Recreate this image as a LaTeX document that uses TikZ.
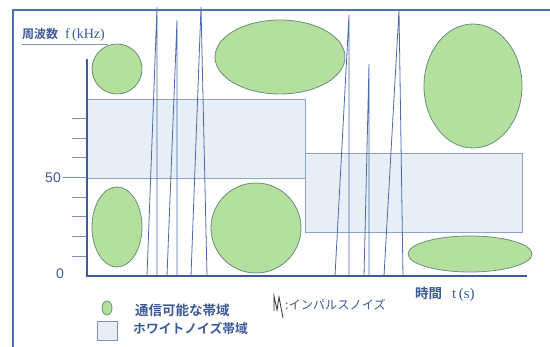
\documentclass[tikz,border=0pt]{standalone}
\usepackage{fontspec}
\setmainfont{Liberation Serif}
\newfontfamily\jp{Noto Sans CJK JP}
\newfontfamily\jpb{Noto Sans CJK JP Bold}
\newfontfamily\sns{Liberation Sans}
\definecolor{frameblue}{HTML}{4F72AE}
\definecolor{axisblue}{HTML}{3E5C9C}
\definecolor{spikeblue}{HTML}{4A6AAE}
\definecolor{bandgreen}{HTML}{B4E09E}
\definecolor{bandedge}{HTML}{6B8C80}
\definecolor{noisefill}{HTML}{E8EEF5}
\definecolor{noiseedge}{HTML}{8DA4C6}
\definecolor{txtblue}{HTML}{3C5A98}
\definecolor{tickgray}{HTML}{7F93B8}
\tikzset{
  band/.style={fill=bandgreen,draw=bandedge,line width=0.8pt},
  noise/.style={fill=noisefill,draw=noiseedge,line width=0.9pt},
  spike/.style={draw=spikeblue,line width=0.8pt},
  axisline/.style={draw=axisblue,line width=1.6pt},
  tickline/.style={draw=tickgray,line width=1pt},
  lbl/.style={text=txtblue,inner sep=0pt}
}
\begin{document}
\begin{tikzpicture}[x=1pt,y=-1pt]
\useasboundingbox (0,0) rectangle (550,347);
% outer frame
\draw[frameblue,line width=1.6pt] (13,347) -- (13,10) -- (550,10);
% noise rectangles
\draw[noise] (87,99) rectangle (305,178);
\draw[noise] (305,153) rectangle (522,232);
% green bands
\draw[band] (117,69) ellipse [x radius=25,y radius=25];
\draw[band] (117,227) ellipse [x radius=25,y radius=40];
\draw[band] (280,57) ellipse [x radius=65,y radius=37];
\draw[band] (256,228) ellipse [x radius=45,y radius=45];
\draw[band] (473,86) ellipse [x radius=49,y radius=62];
\draw[band] (470,254) ellipse [x radius=62,y radius=18];
% impulse spikes
\draw[spike] (147,276) -- (157,7) -- (157,276);
\draw[spike] (167,276) -- (177,20) -- (177,276);
\draw[spike] (191,276) -- (201,7) -- (207,276);
\draw[spike] (335,276) -- (349,15) -- (349,276);
\draw[spike] (364,276) -- (369,64) -- (369,276);
\draw[spike] (384,276) -- (399,10) -- (403,276);
% ticks
\foreach \yy in {119,139,158,198,217,237,257} \draw[tickline] (72,\yy) -- (87,\yy);
\draw[tickline] (63,178) -- (87,178);
% axes
\draw[axisline] (87,59) -- (87,276) -- (527,276);
% axis labels
\node[lbl,anchor=west] (ylab) at (22,35) {{\jpb\fontsize{12}{12}\selectfont 周波数}\hspace{7pt}{\fontsize{14}{14}\selectfont f\,(kHz)}};
\draw[draw=tickgray,line width=0.8pt] (22,44) -- (108,44);
\node[lbl,anchor=east] (l50) at (61,178) {\sns\fontsize{14}{14}\selectfont 50};
\node[lbl,anchor=center] (l0) at (60,274) {\sns\fontsize{14}{14}\selectfont 0};
\node[lbl,anchor=west] (xlab) at (415,294) {{\jpb\fontsize{13.5}{13.5}\selectfont 時間}\hspace{10pt}{\fontsize{15}{15}\selectfont t\,(s)}};
% legend
\draw[band] (107,308) ellipse [x radius=5,y radius=7];
\draw[noise,draw=tickgray] (97,321) rectangle (117,340);
\node[lbl,anchor=west] (lg1) at (135,310) {\jpb\fontsize{13.5}{13.5}\selectfont 通信可能な帯域};
\node[lbl,anchor=west] (lg2) at (133,329) {\jpb\fontsize{12.8}{12.8}\selectfont ホワイトノイズ帯域};
\draw[draw=black!80,line width=0.8pt] (274,311) -- (274,296) -- (277,310) -- (279,297) -- (283,318);
\node[lbl,anchor=west] (lg3) at (285,305) {\jp\fontsize{12.2}{12.2}\selectfont :インパルスノイズ};
\end{tikzpicture}
\end{document}
